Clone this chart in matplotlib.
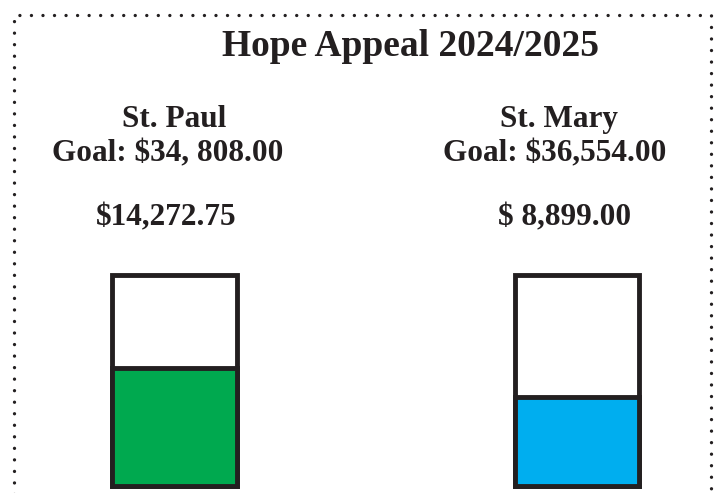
import matplotlib
matplotlib.use("Agg")
import matplotlib.pyplot as plt
from matplotlib.lines import Line2D

# ---- data ----
title = "Hope Appeal 2024/2025"
parishes = ["St. Paul", "St. Mary"]
goal_labels = ["Goal: $34, 808.00", "Goal: $36,554.00"]
raised_labels = ["$14,272.75", "$ 8,899.00"]
fill_pct = [56, 42]          # fill level of each gauge as drawn (percent of height)
fill_colors = ["#00A94F", "#00AEEF"]

W, H = 717, 493
DPI = 100
ink = "#231F20"
font = ["Liberation Serif", "DejaVu Serif"]

fig = plt.figure(figsize=(W / DPI, H / DPI), dpi=DPI)
fig.patch.set_facecolor("white")

# text/border layer in pixel coordinates
tx = fig.add_axes([0, 0, 1, 1])
tx.set_xlim(0, W)
tx.set_ylim(H, 0)
tx.axis("off")

# dotted frame (left, top, right)
px_x = [13.5, 13.5, 711, 711]
px_y = [H + 5, 15, 15, H + 5]
tx.add_line(Line2D(px_x, px_y, color=ink, lw=2.4,
                   linestyle=(0, (0.01, 3.45)), dash_capstyle="round",
                   dash_joinstyle="round"))

tx.text(410, 56, title, ha="center", va="baseline", fontsize=27,
        fontweight="bold", family=font, color=ink)

name_x = [174, 559]
goal_x = [168, 555]
amt_x = [166, 565]
for i in range(len(parishes)):
    tx.text(name_x[i], 127, parishes[i], ha="center", va="baseline",
            fontsize=22.5, fontweight="bold", family=font, color=ink)
    tx.text(goal_x[i], 161, goal_labels[i], ha="center", va="baseline",
            fontsize=22.5, fontweight="bold", family=font, color=ink)
    tx.text(amt_x[i], 225, raised_labels[i], ha="center", va="baseline",
            fontsize=22.5, fontweight="bold", family=font, color=ink)

# gauge layer: data x 0/1 at bar centres, y 0..100 = bar bottom..top
ax = fig.add_axes([0, 0, 1, 1])
ax.patch.set_alpha(0)
x0, unit = 174.5, 402.5
ax.set_xlim(-x0 / unit, (W - x0) / unit)
bot, top = 486, 275
scale = (bot - top) / 100.0
ax.set_ylim(-(H - bot) / scale, bot / scale)
ax.axis("off")

xs = list(range(len(parishes)))
width = 124.5 / unit
lw = 3.5
ax.bar(xs, [100] * len(xs), width=width, facecolor="white",
       edgecolor=ink, linewidth=lw, joinstyle="miter")
ax.bar(xs, fill_pct, width=width, color=fill_colors,
       edgecolor=ink, linewidth=lw, joinstyle="miter")

fig.savefig("out.png", dpi=DPI, facecolor="white")
